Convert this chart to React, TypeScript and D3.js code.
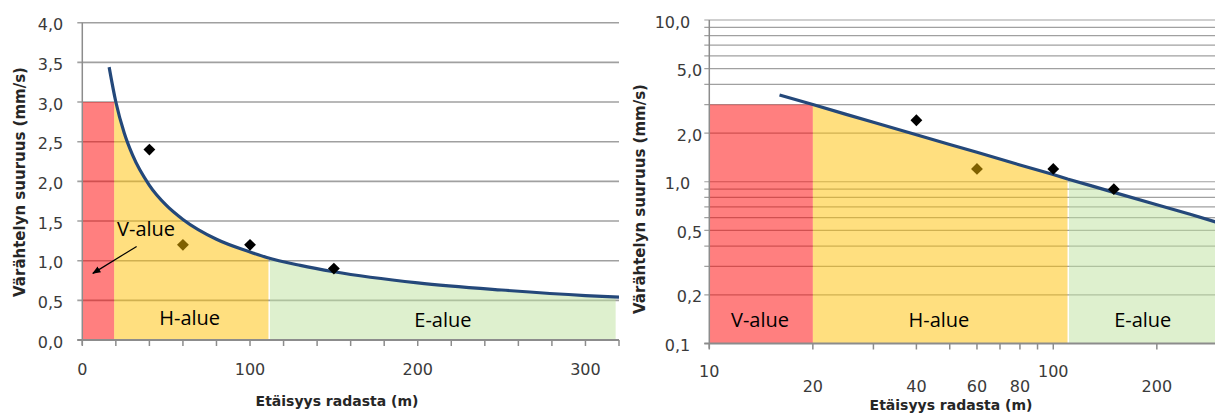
import React, { useEffect, useRef } from "react";
import * as d3 from "d3";

const W = 1215;
const H = 414;

const zoneNames = ["V-alue", "H-alue", "E-alue"];
const zoneColors = ["#ff0000", "#ffc000", "#bde19d"];
const leftZoneEdges = [0, 19, 111, 318];
const rightZoneEdges = [10, 20, 110, 300];
const vZoneTop = 3.0;

// trend line (distance m, velocity mm/s)
const trendDistance = [16, 20, 25, 30, 40, 50, 60, 80, 100, 110, 130, 150, 200, 250, 300, 320];
const trendVelocity = [3.44, 3.0, 2.61, 2.33, 1.95, 1.7, 1.52, 1.27, 1.11, 1.04, 0.94, 0.86, 0.72, 0.63, 0.56, 0.54];

// measured points
const measDistance = [40, 100, 150];
const measVelocity = [2.4, 1.2, 0.9];
const extraDistance = [60];
const extraVelocity = [1.2];

const leftYTicks = [0, 0.5, 1, 1.5, 2, 2.5, 3, 3.5, 4];
const leftXTicks = [0, 20, 40, 60, 80, 100, 120, 140, 160, 180, 200, 220, 240, 260, 280, 300, 320];
const leftXLabels = [0, 100, 200, 300];

const rightYGrid = [0.1, 0.2, 0.3, 0.4, 0.5, 0.6, 0.7, 0.8, 0.9, 1, 2, 3, 4, 5, 6, 7, 8, 9, 10];
const rightYLabels = [0.1, 0.2, 0.5, 1, 2, 5, 10];
const rightYDecades = [0.1, 1, 10];
const rightXTicks = [10, 20, 30, 40, 50, 60, 70, 80, 90, 100, 200, 300];
const rightXLabels = [10, 20, 40, 60, 80, 100, 200];
const rightXHighRow = [10, 100];

const xTitle = "Etäisyys radasta (m)";
const yTitle = "Värähtelyn suuruus (mm/s)";

const tickFont = "'DejaVu Sans', Verdana, sans-serif";
const zoneFont = "'Open Sans', Calibri, sans-serif";

const fmtY = (v: number) => d3.format(".1f")(v).replace(".", ",");

function drawPanel(svg: any, cfg: any) {
  const { id, x, y, edges, yGrid, yLabels, yLabelOffset, xTicks, xLabels, xLabelY, curve, plotRight, gridWidth, zoneLabelPos, yTitlePos, xTitlePos } = cfg;
  const g = svg.append("g");
  const x0 = x.range()[0];
  const yBottom = y.range()[0];
  const yTop = y.range()[1];

  // grid
  g.selectAll(".grid")
    .data(yGrid)
    .enter()
    .append("line")
    .attr("x1", x0 - 5)
    .attr("x2", plotRight)
    .attr("y1", (d: number) => y(d))
    .attr("y2", (d: number) => y(d))
    .attr("stroke", "#a0a0a0")
    .attr("stroke-width", gridWidth);

  // zones
  const trend = trendDistance.map((d, i) => [d, trendVelocity[i]]);
  g.append("rect")
    .attr("x", x(edges[0]))
    .attr("y", y(vZoneTop))
    .attr("width", x(edges[1]) - x(edges[0]))
    .attr("height", yBottom - y(vZoneTop))
    .attr("fill", zoneColors[0])
    .attr("fill-opacity", 0.5);

  const area = d3
    .area()
    .x((d: any) => x(d[0]))
    .y0(yBottom)
    .y1((d: any) => y(d[1]))
    .curve(curve);

  [1, 2].forEach(i => {
    const cid = `clip-${id}-${i}`;
    const left = x(edges[i]) + (i === 2 ? 1.5 : 0);
    svg
      .append("clipPath")
      .attr("id", cid)
      .append("rect")
      .attr("x", left)
      .attr("y", 0)
      .attr("width", x(edges[i + 1]) - left)
      .attr("height", yBottom);
    g.append("path")
      .attr("d", area(trend as any))
      .attr("clip-path", `url(#${cid})`)
      .attr("fill", zoneColors[i])
      .attr("fill-opacity", 0.5);
  });

  // axes
  g.append("line")
    .attr("x1", x0)
    .attr("x2", x0)
    .attr("y1", yTop)
    .attr("y2", yBottom + 5)
    .attr("stroke", "#8c8c8c")
    .attr("stroke-width", 1.5);
  g.append("line")
    .attr("x1", x0 - 5)
    .attr("x2", plotRight)
    .attr("y1", yBottom)
    .attr("y2", yBottom)
    .attr("stroke", "#8c8c8c")
    .attr("stroke-width", 2);
  g.selectAll(".xtick")
    .data(xTicks)
    .enter()
    .append("line")
    .attr("x1", (d: number) => x(d))
    .attr("x2", (d: number) => x(d))
    .attr("y1", yBottom)
    .attr("y2", yBottom + 6)
    .attr("stroke", "#8c8c8c")
    .attr("stroke-width", 1.5);

  g.selectAll(".ylab")
    .data(yLabels)
    .enter()
    .append("text")
    .attr("x", (d: number) => x0 - yLabelOffset(d))
    .attr("y", (d: number) => y(d) + 2)
    .attr("text-anchor", "end")
    .attr("dominant-baseline", "central")
    .attr("font-family", tickFont)
    .attr("font-size", 16)
    .attr("fill", "#3a3a3a")
    .text((d: number) => fmtY(d));

  g.selectAll(".xlab")
    .data(xLabels)
    .enter()
    .append("text")
    .attr("x", (d: number) => x(d))
    .attr("y", (d: number) => xLabelY(d))
    .attr("text-anchor", "middle")
    .attr("dominant-baseline", "central")
    .attr("font-family", tickFont)
    .attr("font-size", 16)
    .attr("fill", "#3a3a3a")
    .text((d: number) => d);

  // titles
  g.append("text")
    .attr("transform", `translate(${yTitlePos[0]},${yTitlePos[1]}) rotate(-90)`)
    .attr("text-anchor", "middle")
    .attr("dominant-baseline", "central")
    .attr("font-family", tickFont)
    .attr("font-weight", "bold")
    .attr("font-size", 15)
    .attr("fill", "#262626")
    .text(yTitle);
  g.append("text")
    .attr("x", xTitlePos[0])
    .attr("y", xTitlePos[1])
    .attr("text-anchor", "middle")
    .attr("dominant-baseline", "central")
    .attr("font-family", tickFont)
    .attr("font-weight", "bold")
    .attr("font-size", 14)
    .attr("fill", "#262626")
    .text(xTitle);

  // zone labels
  zoneNames.forEach((name, i) => {
    g.append("text")
      .attr("x", x(zoneLabelPos[i][0]))
      .attr("y", y(zoneLabelPos[i][1]))
      .attr("text-anchor", "middle")
      .attr("dominant-baseline", "central")
      .attr("font-family", zoneFont)
      .attr("font-size", 20)
      .attr("fill", "#000")
      .text(name);
  });

  // trend line
  const line = d3
    .line()
    .x((d: any) => x(d[0]))
    .y((d: any) => y(d[1]))
    .curve(curve);
  const clipLine = `clip-${id}-line`;
  svg
    .append("clipPath")
    .attr("id", clipLine)
    .append("rect")
    .attr("x", x0)
    .attr("y", 0)
    .attr("width", plotRight - x0)
    .attr("height", H);
  g.append("path")
    .attr("d", line(trend as any))
    .attr("clip-path", `url(#${clipLine})`)
    .attr("fill", "none")
    .attr("stroke", "#24487a")
    .attr("stroke-width", 3.2);

  // points
  const diamond = d3.symbol().type(d3.symbolSquare).size(70);
  const pts = measDistance.map((d, i) => [d, measVelocity[i], "#000"]).concat(
    extraDistance.map((d, i) => [d, extraVelocity[i], "#7f6000"])
  );
  g.selectAll(".pt")
    .data(pts)
    .enter()
    .append("path")
    .attr("d", diamond())
    .attr("transform", (d: any) => `translate(${x(d[0])},${y(d[1])}) rotate(45)`)
    .attr("fill", (d: any) => d[2]);

  return g;
}

export default function App() {
  const ref = useRef<SVGSVGElement>(null);

  useEffect(() => {
    const svg = d3.select(ref.current);
    svg.selectAll("*").remove();

    svg
      .append("defs")
      .append("marker")
      .attr("id", "arrow")
      .attr("viewBox", "0 0 10 10")
      .attr("refX", 9)
      .attr("refY", 5)
      .attr("markerWidth", 7)
      .attr("markerHeight", 7)
      .attr("orient", "auto")
      .append("path")
      .attr("d", "M0,1 L10,5 L0,9 Z")
      .attr("fill", "#000");

    // left: linear axes
    const xL = d3.scaleLinear().domain([0, 320]).range([82.3, 619]);
    const yL = d3.scaleLinear().domain([0, 4]).range([340, 22.7]);
    const gL = drawPanel(svg, {
      id: "l",
      x: xL,
      y: yL,
      edges: leftZoneEdges,
      yGrid: leftYTicks,
      yLabels: leftYTicks,
      yLabelOffset: () => 19,
      xTicks: leftXTicks,
      xLabels: leftXLabels,
      xLabelY: () => 369,
      curve: d3.curveMonotoneX,
      plotRight: 619,
      gridWidth: 1.6,
      zoneLabelPos: [
        [38, 1.41],
        [64, 0.28],
        [215, 0.26]
      ],
      yTitlePos: [19.5, 182],
      xTitlePos: [337, 401]
    });

    // arrow from V-alue label into the red zone
    gL.append("line")
      .attr("x1", xL(32.4))
      .attr("y1", yL(1.18))
      .attr("x2", xL(6.3))
      .attr("y2", yL(0.84))
      .attr("stroke", "#000")
      .attr("stroke-width", 1.2)
      .attr("marker-end", "url(#arrow)");

    // right: log-log axes
    const xR = d3.scaleLog().domain([10, 300]).range([709.3, 1217.4]);
    const yR = d3.scaleLog().domain([0.1, 10]).range([343.5, 20]);
    drawPanel(svg, {
      id: "r",
      x: xR,
      y: yR,
      edges: rightZoneEdges,
      yGrid: rightYGrid,
      yLabels: rightYLabels,
      yLabelOffset: (d: number) => (rightYDecades.includes(d) ? 19 : 7),
      xTicks: rightXTicks,
      xLabels: rightXLabels,
      xLabelY: (d: number) => (rightXHighRow.includes(d) ? 371.5 : 386.5),
      curve: d3.curveLinear,
      plotRight: W,
      gridWidth: 1.2,
      zoneLabelPos: [
        [14.04, 0.141],
        [46.5, 0.141],
        [182, 0.141]
      ],
      yTitlePos: [640, 199],
      xTitlePos: [951, 404.5]
    });
  }, []);

  return (
    <svg
      ref={ref}
      width={W}
      height={H}
      style={{ position: "absolute", left: 0, top: 0, background: "#fff" }}
    />
  );
}
